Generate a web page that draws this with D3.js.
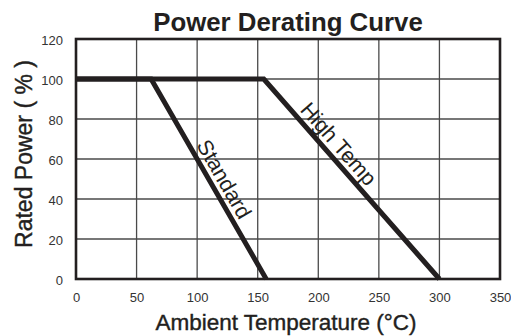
<!DOCTYPE html>
<html><head><meta charset="utf-8">
<script src="https://cdn.jsdelivr.net/npm/d3@7"></script>
<style>
html,body{margin:0;padding:0;background:#fff;}
svg{display:block;font-family:"Liberation Sans",Arial,Helvetica,sans-serif;}
</style></head>
<body>
<svg id="chart" width="511" height="336"></svg>
<script>
const xTicks = [0, 50, 100, 150, 200, 250, 300, 350];
const yTicks = [0, 20, 40, 60, 80, 100, 120];
const standardTemp = [0, 62, 157];
const standardPower = [100, 100, 0];
const highTemp = [0, 155, 300];
const highPower = [100, 100, 0];
const seriesNames = ["Standard", "High Temp"];
const titleText = "Power Derating Curve";
const xTitle = "Ambient Temperature (°C)";
const yTitle = "Rated Power ( % )";

const ink = "#231f20";
const svg = d3.select("#chart");
const x = d3.scaleLinear().domain([0, 350]).range([76, 500]);
const y = d3.scaleLinear().domain([0, 120]).range([279, 39]);

// grid
svg.append("g").selectAll("line").data(xTicks.slice(1, -1)).join("line")
  .attr("x1", d => x(d)).attr("x2", d => x(d)).attr("y1", y(120)).attr("y2", y(0))
  .attr("stroke", "#4a4a4a").attr("stroke-width", 1.3);
svg.append("g").selectAll("line").data(yTicks.slice(1, -1)).join("line")
  .attr("y1", d => y(d)).attr("y2", d => y(d)).attr("x1", x(0)).attr("x2", x(350))
  .attr("stroke", "#4a4a4a").attr("stroke-width", 1.3);

// frame
svg.append("rect").attr("x", x(0)).attr("y", y(120))
  .attr("width", x(350) - x(0)).attr("height", y(0) - y(120))
  .attr("fill", "none").attr("stroke", ink).attr("stroke-width", 2.6);

// axes
const xAxis = svg.append("g").attr("transform", `translate(0,${y(0)})`)
  .call(d3.axisBottom(x).tickValues(xTicks).tickSize(0).tickPadding(14).tickFormat(d3.format("d")));
const yAxis = svg.append("g").attr("transform", `translate(${x(0)},0)`)
  .call(d3.axisLeft(y).tickValues(yTicks).tickSize(0).tickPadding(13).tickFormat(d3.format("d")));
[xAxis, yAxis].forEach(a => {
  a.select(".domain").remove();
  a.selectAll("text").attr("font-family", "'Liberation Sans',Arial,sans-serif")
    .attr("font-size", 13).attr("fill", "#333");
});
yAxis.selectAll("text").attr("dy", "0.45em");

// curves
const line = d3.line().x(d => x(d[0])).y(d => y(d[1]));
const series = [
  {name: seriesNames[0], pts: d3.zip(standardTemp, standardPower), labelAt: 0.534},
  {name: seriesNames[1], pts: d3.zip(highTemp, highPower), labelAt: 0.369}
];
series.forEach(s => {
  svg.append("path").attr("d", line(s.pts)).attr("fill", "none")
    .attr("stroke", ink).attr("stroke-width", 5).attr("stroke-linejoin", "miter");
  const p0 = s.pts[1], p1 = s.pts[2];
  const px = x(p0[0]) + (x(p1[0]) - x(p0[0])) * s.labelAt;
  const py = y(p0[1]) + (y(p1[1]) - y(p0[1])) * s.labelAt;
  const ang = Math.atan2(y(p1[1]) - y(p0[1]), x(p1[0]) - x(p0[0])) * 180 / Math.PI;
  svg.append("text").attr("transform", `translate(${px},${py}) rotate(${ang})`)
    .attr("y", -6).attr("text-anchor", "middle")
    .attr("font-size", 21.5).attr("fill", ink).text(s.name);
});

// titles
svg.append("text").attr("x", 288).attr("y", 31).attr("text-anchor", "middle")
  .attr("font-size", 25.8).attr("font-weight", "bold").attr("fill", ink).text(titleText);
svg.append("text").attr("x", 286).attr("y", 330).attr("text-anchor", "middle")
  .attr("font-size", 22.5).attr("fill", ink).attr("stroke", ink).attr("stroke-width", 0.4)
  .text(xTitle);
svg.append("text").attr("transform", "translate(32,154) rotate(-90)").attr("text-anchor", "middle")
  .attr("font-size", 23).attr("fill", ink).attr("stroke", ink).attr("stroke-width", 0.4)
  .text(yTitle);
</script>
</body></html>
